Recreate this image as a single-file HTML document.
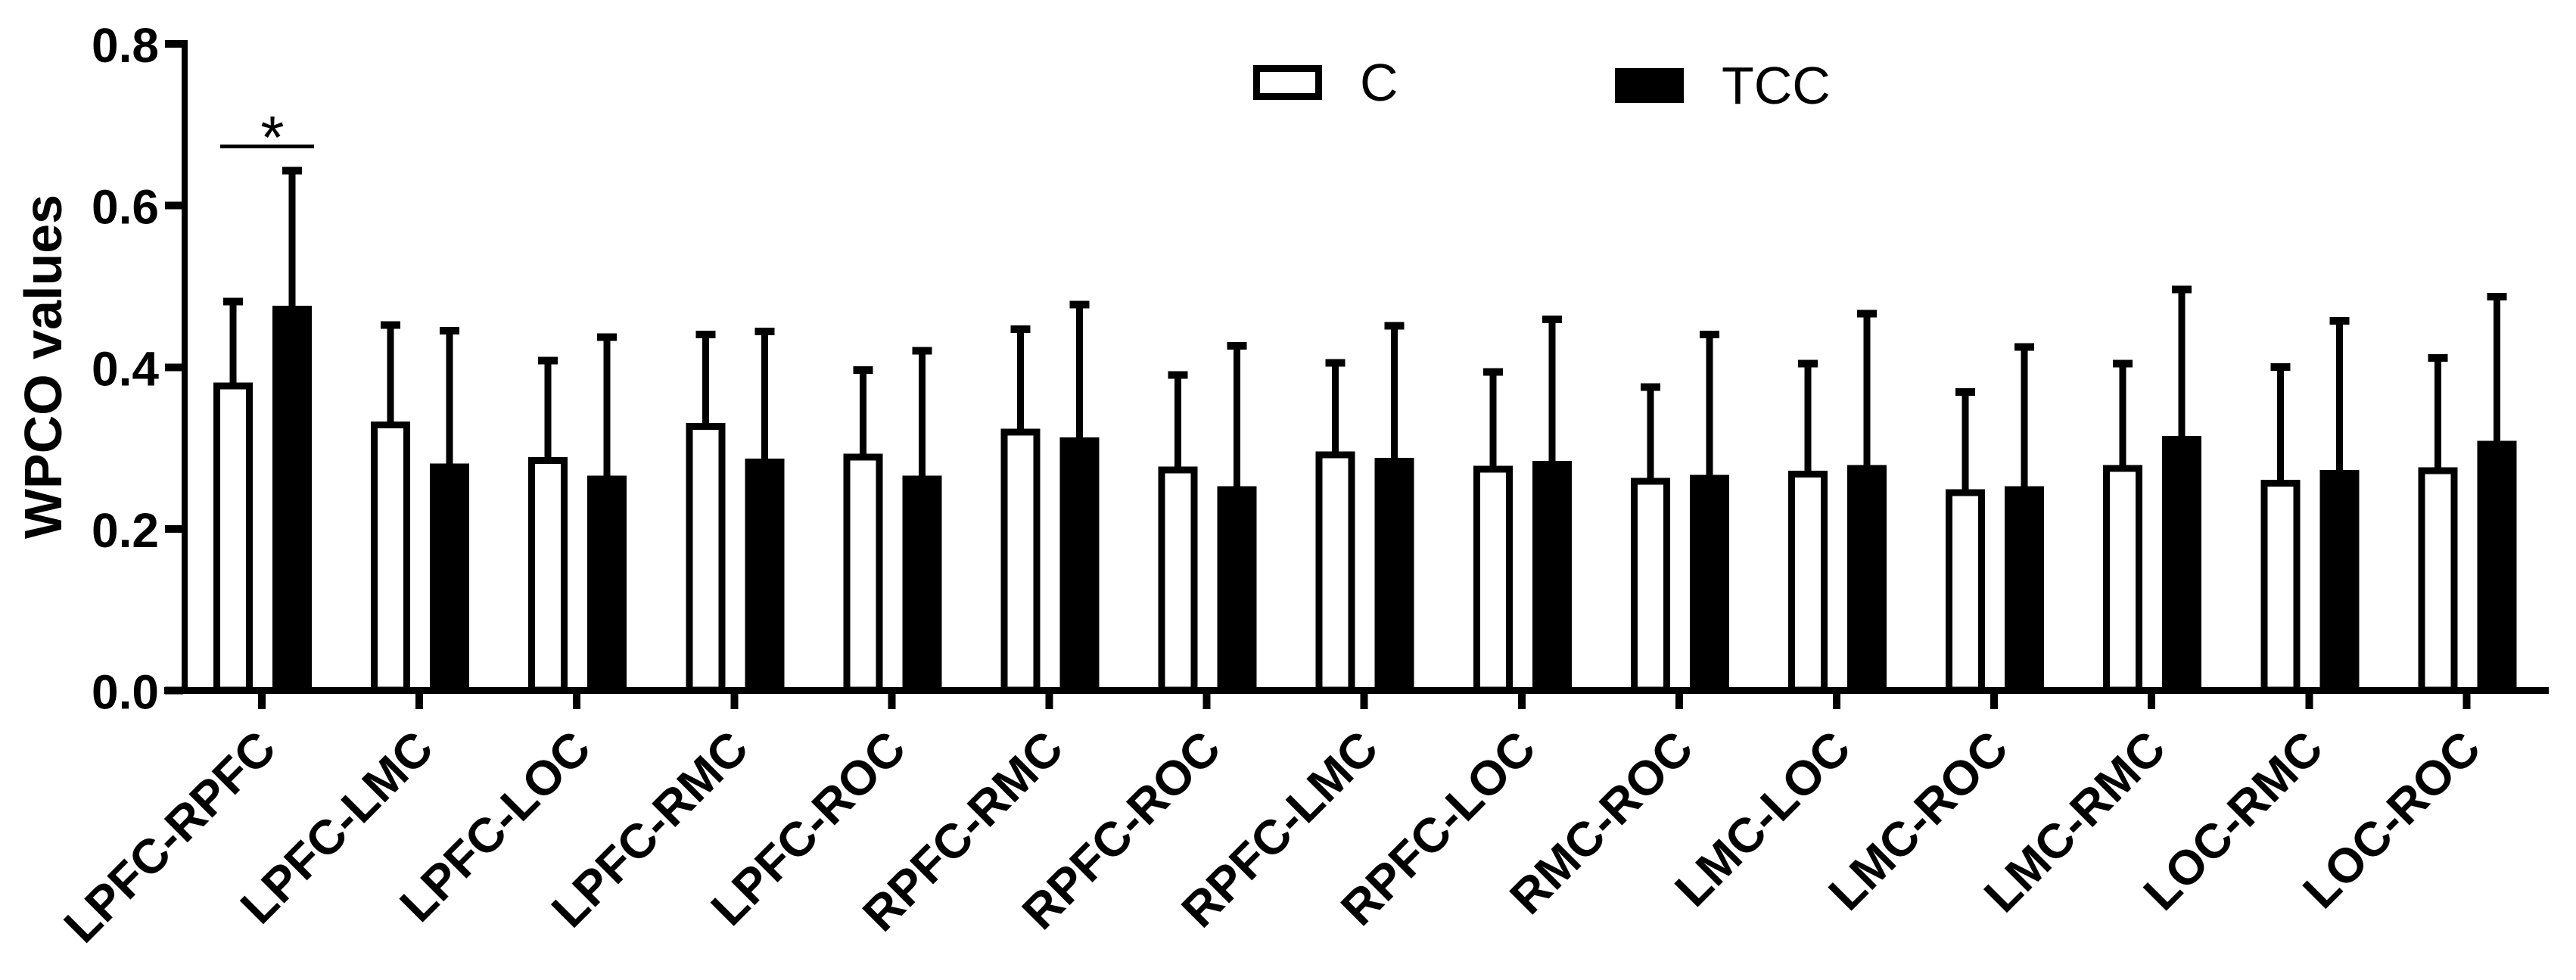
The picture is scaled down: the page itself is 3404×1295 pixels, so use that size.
<!DOCTYPE html>
<html lang="en">
<head>
<meta charset="utf-8">
<title>WPCO values by connection</title>
<style>
  html, body { margin: 0; padding: 0; background: #fff; }
  body { width: 3404px; height: 1295px; overflow: hidden; }
  svg { display: block; }
  text { font-family: "Liberation Sans", Arial, sans-serif; fill: #000; }
  .bold { font-weight: 700; }
</style>
</head>
<body>
<svg id="chart" xmlns="http://www.w3.org/2000/svg" width="3404" height="1295" viewBox="0 0 3404 1295" shape-rendering="crispEdges">
  <rect x="0" y="0" width="3404" height="1295" fill="#fff"/>
  <g id="bars"></g>
  <g id="axes"></g>
  <text class="bold" font-size="70" text-anchor="middle" transform="translate(81 484.5) rotate(-90)">WPCO values</text>
  <g>
    <rect x="1660.5" y="90.5" width="82" height="37" fill="#fff" stroke="#000" stroke-width="9"/>
    <text x="1797" y="133" font-size="70">C</text>
    <rect x="2134" y="90" width="91" height="46" fill="#000"/>
    <text x="2275" y="137" font-size="70">TCC</text>
  </g>
  <g>
    <rect x="291" y="191" width="124" height="5" fill="#000"/>
    <text x="360" y="209" font-size="80" text-anchor="middle">*</text>
  </g>
</svg>
<script>
const categories = ["LPFC-RPFC","LPFC-LMC","LPFC-LOC","LPFC-RMC","LPFC-ROC","RPFC-RMC","RPFC-ROC","RPFC-LMC","RPFC-LOC","RMC-ROC","LMC-LOC","LMC-ROC","LMC-RMC","LOC-RMC","LOC-ROC"];
const controlMeans = [0.381,0.333,0.289,0.331,0.293,0.324,0.277,0.296,0.278,0.263,0.272,0.249,0.279,0.261,0.276];
const controlErrors = [0.105,0.124,0.124,0.114,0.108,0.128,0.118,0.114,0.121,0.117,0.137,0.125,0.130,0.144,0.140];
const tccMeans = [0.476,0.281,0.266,0.287,0.266,0.313,0.253,0.288,0.284,0.267,0.279,0.253,0.315,0.273,0.309];
const tccErrors = [0.172,0.169,0.176,0.162,0.159,0.169,0.178,0.168,0.180,0.178,0.192,0.177,0.186,0.189,0.183];
const yTickValues = [0.0,0.2,0.4,0.6,0.8];
const yTickLabels = ["0.0","0.2","0.4","0.6","0.8"];

const NS = "http://www.w3.org/2000/svg";
const barsLayer = document.getElementById("bars");
const axesLayer = document.getElementById("axes");

function xScale(i) { return 346 + i * 208.1; }
function yScale(v) { return 912.5 - v * 1068; }

function makeRect(x, y, w, h, fill) {
  const r = document.createElementNS(NS, "rect");
  r.setAttribute("x", x);
  r.setAttribute("y", y);
  r.setAttribute("width", w);
  r.setAttribute("height", h);
  r.setAttribute("fill", fill);
  return r;
}

function drawError(cx, barTop, topValue, parent) {
  const capY = yScale(topValue);
  const stem = makeRect(cx - 4.5, capY, 9, barTop - capY + 2, "#000");
  
  
  parent.appendChild(stem);
  const cap = makeRect(cx - 13, capY, 26, 10, "#000");
  
  
  parent.appendChild(cap);
}

categories.forEach(function (label, i) {
  const group = document.createElementNS(NS, "g");
  
  

  const cxC = xScale(i) - 38;
  const topC = yScale(controlMeans[i]);
  const barC = makeRect(cxC - 26 + 4.5, topC + 4.5, 43, 912 - topC - 4.5, "#fff");
  barC.setAttribute("stroke", "#000");
  barC.setAttribute("stroke-width", "9");
  
  
  group.appendChild(barC);
  drawError(cxC, topC, controlMeans[i] + controlErrors[i], group);

  const cxT = xScale(i) + 40;
  const topT = yScale(tccMeans[i]);
  const barT = makeRect(cxT - 26, topT, 52, 912 - topT, "#000");
  
  
  group.appendChild(barT);
  drawError(cxT, topT, tccMeans[i] + tccErrors[i], group);

  barsLayer.appendChild(group);
});

const yAxisLine = makeRect(240, 53, 8, 864, "#000");


axesLayer.appendChild(yAxisLine);

const xAxisLine = makeRect(217, 908, 3151, 9, "#000");


axesLayer.appendChild(xAxisLine);

yTickValues.forEach(function (v, i) {
  const py = yScale(v);
  const tick = makeRect(218, py - 5, 24, 10, "#000");
  
  
  axesLayer.appendChild(tick);

  const t = document.createElementNS(NS, "text");
  t.setAttribute("x", 210);
  t.setAttribute("y", py + 24);
  t.setAttribute("font-size", "64");
  t.setAttribute("font-weight", "700");
  t.setAttribute("text-anchor", "end");
  
  
  t.textContent = yTickLabels[i];
  axesLayer.appendChild(t);
});

categories.forEach(function (label, i) {
  const px = xScale(i);
  const tick = makeRect(px - 5, 915, 10, 22, "#000");
  
  
  axesLayer.appendChild(tick);

  const t = document.createElementNS(NS, "text");
  t.setAttribute("font-size", "64");
  t.setAttribute("font-weight", "700");
  t.setAttribute("text-anchor", "end");
  t.setAttribute("transform", "translate(" + (px + 22) + " 993) rotate(-45)");
  
  
  t.textContent = label;
  axesLayer.appendChild(t);
});
</script>
</body>
</html>
